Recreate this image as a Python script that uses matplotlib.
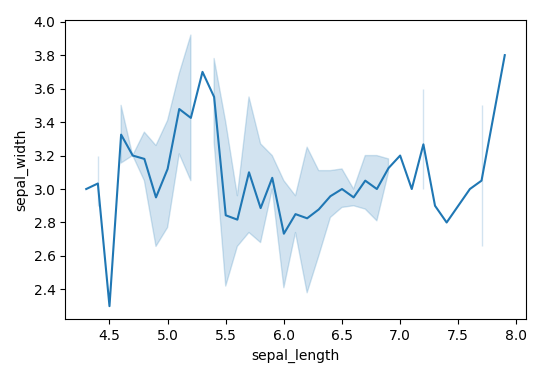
import numpy as np
import matplotlib
matplotlib.use("Agg")
import matplotlib.pyplot as plt

# sepal_length values (x), mean sepal_width (line), and CI band bounds
sepal_length = [4.3, 4.4, 4.5, 4.6, 4.7, 4.8, 4.9, 5.0, 5.1, 5.2, 5.3, 5.4, 5.5, 5.6,
                5.7, 5.8, 5.9, 6.0, 6.1, 6.2, 6.3, 6.4, 6.5, 6.6, 6.7, 6.8, 6.9, 7.0,
                7.1, 7.2, 7.3, 7.4, 7.6, 7.7, 7.9]
sepal_width_mean = [3.0, 3.033, 2.3, 3.325, 3.2, 3.18, 2.95, 3.12, 3.478, 3.425, 3.7, 3.55,
                    2.843, 2.817, 3.1, 2.886, 3.067, 2.733, 2.85, 2.825, 2.878, 2.957, 3.0,
                    2.95, 3.05, 3.0, 3.125, 3.2, 3.0, 3.267, 2.9, 2.8, 3.0, 3.05, 3.8]
nan = np.nan
ci_low = [nan, 2.9, nan, 3.155, 3.2, 3.05, 2.657, 2.77, 3.21, 3.05, nan, 3.28,
          2.42, 2.657, 2.74, 2.68, 3.0, 2.41, 2.74, 2.38, 2.6, 2.83, 2.89,
          2.9, 2.88, 2.81, 3.1, nan, nan, 3.0, nan, nan, nan, 2.66, nan]
ci_high = [nan, 3.2, nan, 3.50, 3.2, 3.34, 3.26, 3.41, 3.69, 3.92, nan, 3.78,
           3.40, 2.96, 3.55, 3.27, 3.2, 3.05, 2.96, 3.25, 3.11, 3.11, 3.12,
           3.0, 3.2, 3.2, 3.18, nan, nan, 3.6, nan, nan, nan, 3.50, nan]

fig = plt.figure(figsize=(5.38, 3.77), dpi=100)
ax = fig.add_axes([65.3 / 538, 1 - 319.3 / 377, (525.7 - 65.3) / 538, (319.3 - 20) / 377])

x = np.array(sepal_length)
ax.fill_between(x, np.array(ci_low), np.array(ci_high), color="#1f77b4", alpha=0.2)
ax.plot(x, sepal_width_mean, color="#1f77b4", linewidth=1.5)

ax.set_xlim(4.12, 8.08)
ax.set_ylim(2.2215, 4.01)
ax.set_xticks([4.5, 5.0, 5.5, 6.0, 6.5, 7.0, 7.5, 8.0])
ax.set_yticks([2.4, 2.6, 2.8, 3.0, 3.2, 3.4, 3.6, 3.8, 4.0])
ax.tick_params(labelsize=10)
ax.set_xlabel("sepal_length", fontsize=10)
ax.set_ylabel("sepal_width", fontsize=10)

fig.savefig("out.png", dpi=100)
